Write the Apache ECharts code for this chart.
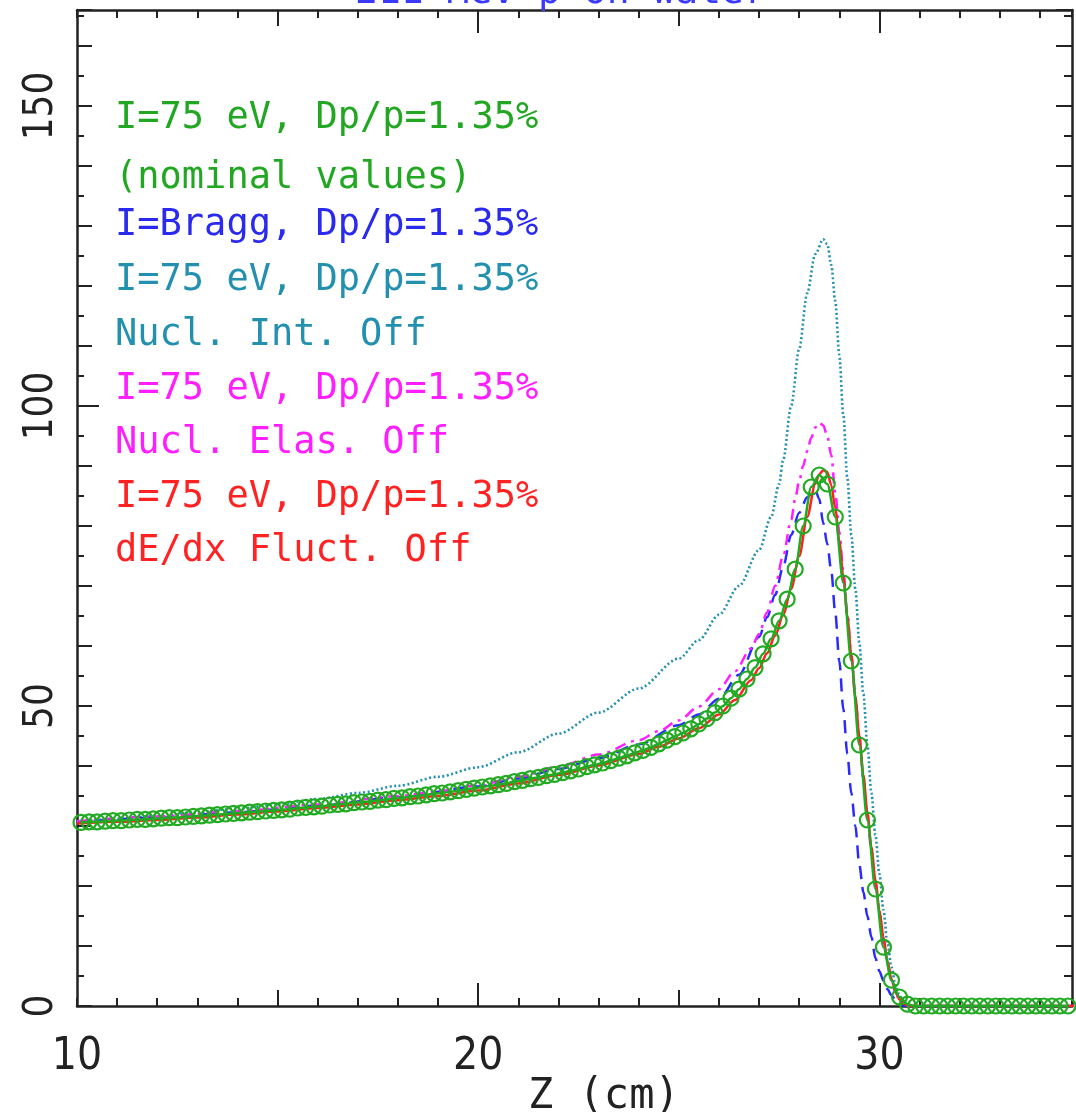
<!DOCTYPE html>
<html>
<head>
<meta charset="utf-8">
<script src="https://cdn.jsdelivr.net/npm/echarts@6/dist/echarts.min.js"></script>
<style>
html,body{margin:0;padding:0;background:#fff;}
#chart{width:1076px;height:1112px;}
</style>
</head>
<body>
<div id="chart"></div>
<script>
// ---------- DATA ----------
const xTickLabels = [10, 20, 30];
const yTickLabels = [0, 50, 100, 150];
const titleText = "211 MeV p on water";
const xTitle = "Z (cm)";

// nominal (green, circles)
const zNominal = [10.1,10.3,10.5,10.7,10.9,11.1,11.3,11.5,11.7,11.9,
12.1,12.3,12.5,12.7,12.9,13.1,13.3,13.5,13.7,13.9,
14.1,14.3,14.5,14.7,14.9,15.1,15.3,15.5,15.7,15.9,
16.1,16.3,16.5,16.7,16.9,17.1,17.3,17.5,17.7,17.9,
18.1,18.3,18.5,18.7,18.9,19.1,19.3,19.5,19.7,19.9,
20.1,20.3,20.5,20.7,20.9,21.1,21.3,21.5,21.7,21.9,
22.1,22.3,22.5,22.7,22.9,23.1,23.3,23.5,23.7,23.9,
24.1,24.3,24.5,24.7,24.9,25.1,25.3,25.5,25.7,25.9,
26.1,26.3,26.5,26.7,26.9,27.1,27.3,27.5,27.7,27.9,
28.1,28.3,28.5,28.7,28.9,29.1,29.3,29.5,29.7,29.9,
30.1,30.3,30.5,30.7,30.9,31.1,31.3,31.5,31.7,31.9,
32.1,32.3,32.5,32.7,32.9,33.1,33.3,33.5,33.7,33.9,
34.1,34.3,34.5,34.7];
const vNominal = [30.6,30.7,30.7,30.8,30.9,30.9,31.0,31.1,31.1,31.2,
31.3,31.4,31.4,31.5,31.6,31.7,31.8,31.9,32.0,32.1,
32.2,32.3,32.4,32.5,32.6,32.7,32.8,33.0,33.1,33.2,
33.3,33.5,33.6,33.7,33.9,34.0,34.1,34.3,34.4,34.6,
34.7,34.9,35.0,35.2,35.4,35.5,35.7,35.9,36.1,36.3,
36.5,36.7,36.9,37.1,37.4,37.6,37.9,38.1,38.4,38.6,
38.9,39.2,39.5,39.9,40.2,40.5,40.9,41.3,41.7,42.2,
42.6,43.1,43.7,44.3,44.9,45.5,46.2,47.0,47.9,48.9,
50.0,51.3,52.8,54.5,56.4,58.7,61.2,64.2,67.8,72.8,
80.0,86.5,88.5,87.0,81.5,70.5,57.5,43.5,31.0,19.5,
9.8,4.3,1.5,0.3,0,0,0,0,0,0,
0,0,0,0,0,0,0,0,0,0,
0,0,0,0];

// dE/dx fluct. off (red)
const zFluctOff = [10,11,12,13,14,15,16,17,18,19,20,21,22,23,24,24.5,25,25.5,26,26.4,26.8,27.0,27.2,27.4,27.6,27.8,28.0,28.2,28.4,28.5,28.6,28.7,28.8,28.9,29.0,29.1,29.2,29.3,29.4,29.5,29.6,29.7,29.8,29.9,30.0,30.1,30.2,30.3,30.4,30.5,30.6,30.7,30.8,35];
const vFluctOff = [30.4,30.7,31.0,31.4,31.9,32.4,33.0,33.6,34.3,35.0,35.9,37.1,38.5,40.1,42.0,43.2,44.6,46.3,48.6,51.0,54.3,56.3,58.8,61.7,65.1,69.5,75.0,81.5,87.0,88.6,89.3,89.0,86.8,83.0,77.5,71.5,65.0,58.5,51.5,45.0,38.5,32.3,26.5,21.0,16.0,11.5,7.5,4.5,2.4,1.1,0.4,0.1,0,0];

// I=Bragg (blue dashed)
const zBragg = [10,12,14,16,18,20,21,22,23,24,25,25.5,26,26.5,27.0,27.2,27.4,27.6,27.8,28.0,28.2,28.4,28.5,28.6,28.7,28.8,28.9,29.0,29.1,29.2,29.3,29.4,29.5,29.6,29.7,29.8,29.9,30.0,30.1,30.2,30.3,30.4,30.5,30.6,30.7,35];
const vBragg = [30.6,31.4,32.3,33.4,34.8,36.6,37.9,39.5,41.3,43.6,46.8,48.6,51.2,55.2,61.5,64.8,68.5,73.2,78.5,82.2,84.8,86.0,84.5,80.5,77.0,72.5,65.5,57.5,49.5,42.0,35.5,30.0,23.5,19.0,15.0,11.5,8.0,5.8,4.2,2.8,1.8,1.0,0.4,0.1,0,0];

// Nucl. Int. Off (teal dotted)
const zIntOff = [10,11,12,13,14,15,16,17,18,19,20,21,22,23,24,25,25.5,26,26.5,27.0,27.3,27.5,27.6,27.8,28.0,28.2,28.4,28.6,28.7,28.8,28.9,29.0,29.1,29.2,29.3,29.4,29.5,29.6,29.7,29.8,29.9,30.0,30.1,30.2,30.3,30.4,30.5,30.6,30.7,30.8,35];
const vIntOff = [30.7,31.2,31.7,32.3,32.9,33.6,34.5,35.5,36.7,38.2,39.8,42.3,45.4,48.9,52.9,57.9,61.0,65.2,70.0,76.0,81.5,87.0,91.0,100.0,109.5,118.8,125.3,127.8,127.0,123.5,117.5,108.5,98.5,88.0,78.5,69.5,60.5,52.0,43.5,35.5,28.5,22.0,16.0,10.5,6.5,3.5,1.7,0.7,0.2,0,0];

// Nucl. Elas. Off (magenta dash-dot)
const zElasOff = [10,12,14,16,18,19,20,21,22,23,24,24.5,25,25.5,26,26.4,26.8,27.0,27.2,27.4,27.6,27.8,27.9,28.0,28.1,28.2,28.3,28.4,28.5,28.6,28.7,28.8,28.9,29.0,29.1,29.2,29.3,29.4,29.5,29.6,29.7,29.8,29.9,30.0,30.1,30.2,30.3,30.4,30.5,30.6,30.7,30.8,35];
const vElasOff = [30.8,31.6,32.5,33.6,35.0,35.8,36.8,38.2,39.9,41.9,44.3,45.8,47.6,49.9,52.8,55.8,59.6,62.0,65.6,70.0,75.0,81.0,84.5,87.5,90.0,92.5,94.7,96.4,97.2,96.8,95.0,91.8,85.5,79.0,72.5,65.5,58.5,51.5,45.0,37.5,31.5,25.8,20.5,15.5,11.0,7.2,4.3,2.3,1.0,0.4,0.1,0,0];

const legendLines = [
  {text: "I=75 eV, Dp/p=1.35%", color: "#22a722", y: 121},
  {text: "(nominal values)",    color: "#22a722", y: 181},
  {text: "I=Bragg, Dp/p=1.35%", color: "#2a2aee", y: 228},
  {text: "I=75 eV, Dp/p=1.35%", color: "#2390b0", y: 283},
  {text: "Nucl. Int. Off",      color: "#2390b0", y: 338},
  {text: "I=75 eV, Dp/p=1.35%", color: "#ff1eff", y: 392},
  {text: "Nucl. Elas. Off",     color: "#ff1eff", y: 446},
  {text: "I=75 eV, Dp/p=1.35%", color: "#ff2222", y: 500},
  {text: "dE/dx Fluct. Off",    color: "#ff2222", y: 554}
];

// ---------- CHART ----------
const pair = (zs, vs) => zs.map((z, i) => [z, vs[i]]);
const XMIN = 10, XMAX = 34.8, YMIN = 0, YMAX = 166;
const axisCol = '#222';
const labelFont = "'Liberation Sans Narrow','DejaVu Sans Condensed','Liberation Sans',sans-serif";
const monoFont = "'DejaVu Sans Mono','Liberation Mono',monospace";

function xAx(pos, showLine, tickVals, interval, len, labels) {
  const a = {
    type: 'value', position: pos, min: XMIN, max: XMAX, interval: interval,
    splitLine: {show: false},
    axisLine: {show: showLine, onZero: false, lineStyle: {color: axisCol, width: 2.5}},
    axisTick: {show: true, inside: true, length: len, lineStyle: {color: axisCol, width: 2}},
    axisLabel: {show: false}
  };
  if (tickVals) a.axisTick.customValues = tickVals;
  if (labels) {
    a.axisLabel = {show: true, customValues: labels, color: '#222', fontSize: 44,
      fontFamily: labelFont, margin: 30};
  }
  return a;
}
function yAx(pos, showLine, tickVals, interval, len, labels) {
  const a = {
    type: 'value', position: pos, min: YMIN, max: YMAX, interval: interval,
    splitLine: {show: false},
    axisLine: {show: showLine, onZero: false, lineStyle: {color: axisCol, width: 2.5}},
    axisTick: {show: true, inside: true, length: len, lineStyle: {color: axisCol, width: 2}},
    axisLabel: {show: false}
  };
  if (tickVals) a.axisTick.customValues = tickVals;
  if (labels) {
    a.axisLabel = {show: true, customValues: labels, color: '#222', fontSize: 40,
      fontFamily: labelFont, rotate: 90, margin: 15};
  }
  return a;
}

const chart = echarts.init(document.getElementById('chart'), null, {renderer: 'canvas'});
const option = {
  animation: false,
  backgroundColor: '#fff',
  grid: {left: 77, right: 4, top: 10, bottom: 106, containLabel: false},
  xAxis: [
    xAx('bottom', true, [20, 30], 10, 23, xTickLabels),
    xAx('bottom', false, [15, 25], 5, 16),
    xAx('bottom', false, null, 1, 8),
    xAx('top', true, [20, 30], 10, 23),
    xAx('top', false, [15, 25], 5, 16),
    xAx('top', false, null, 1, 8)
  ],
  yAxis: [
    yAx('left', true, [100], 50, 22, yTickLabels),
    yAx('left', false, null, 10, 15),
    yAx('left', false, null, 5, 7),
    yAx('right', true, null, 10, 16),
    yAx('right', false, null, 5, 8)
  ],
  graphic: [
    {type: 'text', left: 355, top: -26, z: 100,
      style: {text: titleText, fill: '#3a3aff', font: "38px " + monoFont}},
    {type: 'text', left: 528, top: 1076, z: 100,
      style: {text: xTitle, fill: '#222', font: "42px " + monoFont}}
  ].concat(legendLines.map(l => ({
    type: 'text', left: 115, top: l.y - 21, z: 100,
    style: {text: l.text, fill: l.color, font: "37px " + monoFont}
  }))),
  series: [
    {type: 'line', name: 'Nucl. Int. Off', data: pair(zIntOff, vIntOff), showSymbol: false, symbol: 'none',
      smooth: 0.3, smoothMonotone: 'x',
      lineStyle: {color: '#2390b0', width: 2.6, type: [2, 2.5]}},
    {type: 'line', name: 'I=Bragg', data: pair(zBragg, vBragg), showSymbol: false, symbol: 'none',
      smooth: 0.3, smoothMonotone: 'x',
      lineStyle: {color: '#2a2aff', width: 2.5, type: [13, 8]}},
    {type: 'line', name: 'Nucl. Elas. Off', data: pair(zElasOff, vElasOff), showSymbol: false, symbol: 'none',
      smooth: 0.3, smoothMonotone: 'x',
      lineStyle: {color: '#ff1eff', width: 2.5, type: [11, 6, 3, 6]}},
    {type: 'line', name: 'dE/dx Fluct. Off', data: pair(zFluctOff, vFluctOff), showSymbol: false, symbol: 'none',
      smooth: 0.3, smoothMonotone: 'x',
      lineStyle: {color: '#ff2020', width: 2.5}},
    {type: 'line', name: 'nominal', data: pair(zNominal, vNominal), symbol: 'circle', symbolSize: 15,
      showSymbol: true, showAllSymbol: true, smooth: 0.3, smoothMonotone: 'x',
      itemStyle: {color: 'rgba(0,0,0,0)', borderColor: '#22aa22', borderWidth: 2.2},
      lineStyle: {color: '#22aa22', width: 2.5}}
  ]
};
chart.setOption(option);
</script>
</body>
</html>
